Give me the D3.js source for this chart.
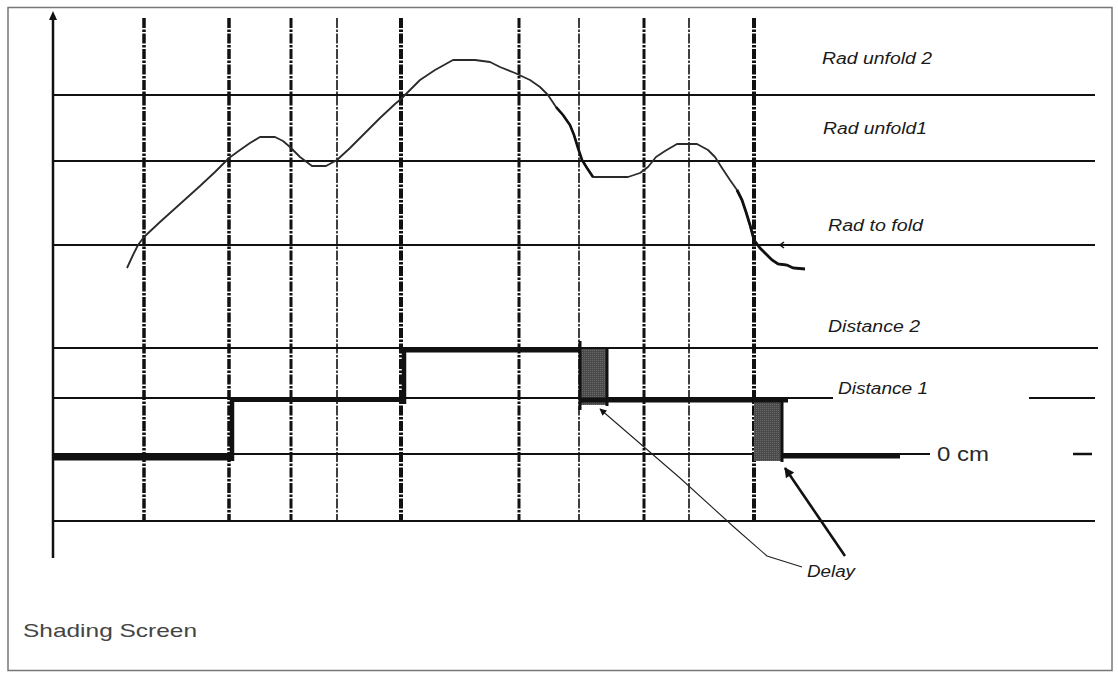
<!DOCTYPE html>
<html><head><meta charset="utf-8">
<script src="https://cdn.jsdelivr.net/npm/d3@7"></script>
<style>body{margin:0;background:#fff}svg{display:block}text{font-family:"Liberation Sans",Arial,sans-serif}</style>
</head><body>
<script>
// ---- data ----
const switchTimes = [91, 176, 238, 284, 348, 466, 526, 591, 636, 701];
const switchWeight = [3.5, 3.5, 3, 1.6, 4, 3, 1.6, 3, 1.6, 4];
const radTime = [74,80,85,91,107,127,147,162,176,187,197,207,222,230,237,247,259,273,284,297,312,327,342,348,357,367,382,400,422,437,447,462,477,487,495,503,510,517,521,525,529,534,540,575,587,595,603,612,624,644,655,662,669,677,684,689,693,697,701,707,713,719,725,734,740,752];
const radValue = [32,45,55,63,78,96,114,128,142,150,157,163,163,159,153,143,134,134,140,152,167,182,196,201,210,220,230,240,240,238,233,227,220,213,205,193,185,175,165,152,140,132,123,123,127,133,143,149,156,156,150,143,132,120,110,100,88,75,60,52,46,40,36,35,32,31];
const radThresholdNames = ["Rad to fold", "Rad unfold1", "Rad unfold 2"];
const radThresholds = [55, 139, 205];
const distNames = ["0 cm", "Distance 1", "Distance 2"];
const distLevels = [0, 1, 2];
const stepStart = [0, 178, 350, 527, 729];
const stepEnd = [178, 350, 527, 735, 847];
const stepLevel = [0, 1, 2, 1, 0];
const delayStart = [527, 701];
const delayEnd = [554, 729];
const delayFrom = [2, 1];
const delayTo = [1, 0];

const W = 1118, H = 673;
const svg = d3.select("body").append("svg").attr("width", W).attr("height", H);
svg.append("rect").attr("width", W).attr("height", H).attr("fill", "#fff");

const x = d3.scaleLinear().domain([0, 1042]).range([53, 1095]);
const yRad = d3.scaleLinear().domain([0, 300]).range([300, 0]);
const yDist = d3.scaleLinear().domain([-1.2, 0, 1, 2]).range([521, 454, 398, 348]);

const defs = svg.append("defs");
defs.append("marker").attr("id","ahThin").attr("viewBox","0 0 10 10").attr("refX",9).attr("refY",5)
  .attr("markerWidth",9).attr("markerHeight",7).attr("markerUnits","userSpaceOnUse").attr("orient","auto")
  .append("path").attr("d","M0,0L10,5L0,10z").attr("fill","#111");
defs.append("marker").attr("id","ahThick").attr("viewBox","0 0 10 10").attr("refX",9).attr("refY",5)
  .attr("markerWidth",14).attr("markerHeight",10).attr("markerUnits","userSpaceOnUse").attr("orient","auto")
  .append("path").attr("d","M0,0L10,5L0,10z").attr("fill","#111");
const pat = defs.append("pattern").attr("id","stip").attr("width",2).attr("height",2).attr("patternUnits","userSpaceOnUse");
pat.append("rect").attr("width",2).attr("height",2).attr("fill","#4a4a4a");
pat.append("rect").attr("width",1).attr("height",1).attr("fill","#6a6a6a");

// frame
svg.append("rect").attr("x",8).attr("y",7.5).attr("width",1104).attr("height",663)
  .attr("fill","none").attr("stroke","#777").attr("stroke-width",1.5);

// horizontal threshold lines
const hl = svg.append("g").attr("stroke","#111").attr("stroke-width",2.2);
radThresholds.forEach(v => hl.append("line").attr("x1",x(0)).attr("x2",x(1042)).attr("y1",yRad(v)).attr("y2",yRad(v)));
hl.append("line").attr("x1",x(0)).attr("x2",x(1045)).attr("y1",yDist(2)).attr("y2",yDist(2));
hl.append("line").attr("x1",x(0)).attr("x2",x(780)).attr("y1",yDist(1)).attr("y2",yDist(1));
hl.append("line").attr("x1",x(976)).attr("x2",x(1042)).attr("y1",yDist(1)).attr("y2",yDist(1));
hl.append("line").attr("x1",x(0)).attr("x2",x(877)).attr("y1",yDist(0)).attr("y2",yDist(0));
hl.append("line").attr("x1",x(1020)).attr("x2",x(1039)).attr("y1",yDist(0)).attr("y2",yDist(0)).attr("stroke-width",2.5);
hl.append("line").attr("x1",x(0)).attr("x2",x(1042)).attr("y1",yDist(-1.2)).attr("y2",yDist(-1.2));

// vertical switch lines
svg.append("g").selectAll("line").data(switchTimes).join("line")
  .attr("x1", d => x(d)).attr("x2", d => x(d)).attr("y1", 18).attr("y2", yDist(-1.2))
  .attr("stroke","#111").attr("stroke-width",(d,i)=>switchWeight[i])
  .attr("stroke-dasharray","10,1.5,2.5,1.5");

// y axis
svg.append("line").attr("x1",x(0)).attr("x2",x(0)).attr("y1",18).attr("y2",558).attr("stroke","#111").attr("stroke-width",2.5);
svg.append("path").attr("d",`M${x(0)-4},20L${x(0)},11L${x(0)+4},20z`).attr("fill","#111");

// radiation curve
const radData = radTime.map((t,i)=>({t, v: radValue[i]}));
const line = d3.line().x(d=>x(d.t)).y(d=>yRad(d.v));
svg.append("path").datum(radData).attr("d",line).attr("fill","none").attr("stroke","#2a2a2a").attr("stroke-width",1.8).attr("stroke-linejoin","round");
svg.append("path").datum(radData.filter(d=>d.t>=500 && d.t<=540)).attr("d",line).attr("fill","none").attr("stroke","#111").attr("stroke-width",2.6);
svg.append("path").datum(radData.filter(d=>d.t>=684)).attr("d",line).attr("fill","none").attr("stroke","#111").attr("stroke-width",2.8);
// tiny marker near Rad to fold
svg.append("path").attr("d",`M${x(727)},${yRad(55)}L${x(738)},${yRad(55)}M${x(731)},${yRad(55)-3}L${x(727)},${yRad(55)}L${x(731)},${yRad(55)+3}`)
  .attr("stroke","#111").attr("stroke-width",1.5).attr("fill","none");

// delay rects
delayStart.forEach((s,i)=>{
  svg.append("rect").attr("x",x(s)).attr("y",yDist(delayFrom[i])+1).attr("width",x(delayEnd[i])-x(s))
    .attr("height",yDist(delayTo[i])-yDist(delayFrom[i])+6).attr("fill","url(#stip)");
  svg.append("line").attr("x1",x(delayEnd[i])).attr("x2",x(delayEnd[i]))
    .attr("y1",yDist(delayFrom[i])).attr("y2",yDist(delayTo[i])+8).attr("stroke","#111").attr("stroke-width",3);
});

// step function
const st = svg.append("g").attr("stroke","#111").attr("stroke-linecap","butt");
const stepW = [7,4.5,5,5,5];
stepStart.forEach((s,i)=>{
  st.append("line").attr("x1",x(s)).attr("x2",x(stepEnd[i])).attr("y1",yDist(stepLevel[i])+stepW[i]/2-0.5).attr("y2",yDist(stepLevel[i])+stepW[i]/2-0.5).attr("stroke-width",stepW[i]);
});
st.append("line").attr("x1",x(179)).attr("x2",x(179)).attr("y1",yDist(1)).attr("y2",yDist(0)+7).attr("stroke-width",4.5);
st.append("line").attr("x1",x(351)).attr("x2",x(351)).attr("y1",yDist(2)).attr("y2",yDist(1)+6).attr("stroke-width",4.5);
st.append("line").attr("x1",x(527)).attr("x2",x(527)).attr("y1",yDist(2)-7).attr("y2",yDist(1)+12).attr("stroke-width",3);

// labels
const lab = svg.append("g").attr("fill","#1a1a1a").attr("font-size",16).attr("font-style","italic");
const radLabelY = [225, 128, 58];
const radLabelX = [828, 823, 822];
const radLabelW = [95, 104, 110];
radThresholdNames.forEach((n,i)=>lab.append("text").attr("x",radLabelX[i]).attr("y",radLabelY[i]).attr("dy","0.35em").attr("textLength",radLabelW[i]).attr("lengthAdjust","spacingAndGlyphs").text(n));
lab.append("text").attr("x",828).attr("y",326).attr("dy","0.35em").attr("textLength",92).attr("lengthAdjust","spacingAndGlyphs").text(distNames[2]);
lab.append("text").attr("x",838).attr("y",388).attr("dy","0.35em").attr("textLength",90).attr("lengthAdjust","spacingAndGlyphs").text(distNames[1]);
lab.append("text").attr("x",807).attr("y",571).attr("dy","0.35em").attr("textLength",48).attr("lengthAdjust","spacingAndGlyphs").text("Delay");
svg.append("text").attr("x",937).attr("y",454).attr("dy","0.35em").attr("font-size",20).attr("fill","#2a2a2a").attr("textLength",52).attr("lengthAdjust","spacingAndGlyphs").text(distNames[0]);
svg.append("text").attr("x",23).attr("y",630).attr("dy","0.35em").attr("font-size",19).attr("fill","#444").attr("textLength",174).attr("lengthAdjust","spacingAndGlyphs").text("Shading Screen");

// delay arrows
svg.append("path").attr("d","M802,567L767,556L735,528L680,478L600,409").attr("fill","none").attr("stroke","#222").attr("stroke-width",1.1).attr("marker-end","url(#ahThin)");
svg.append("line").attr("x1",845).attr("y1",556).attr("x2",785).attr("y2",468).attr("stroke","#111").attr("stroke-width",2.6).attr("marker-end","url(#ahThick)");
</script>
</body></html>
